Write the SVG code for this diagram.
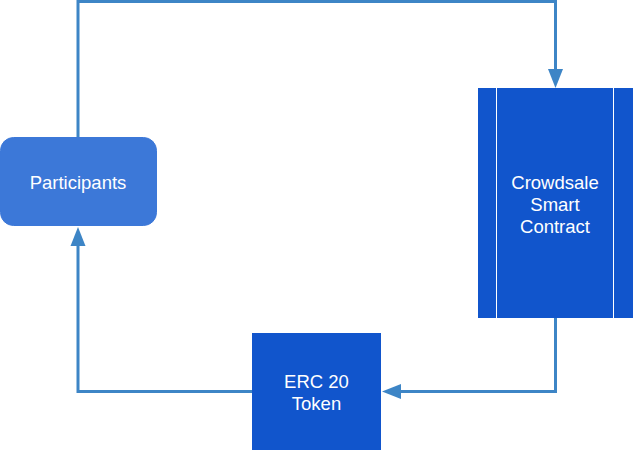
<svg xmlns="http://www.w3.org/2000/svg" width="634" height="451" viewBox="0 0 634 451">
<defs>
<style>
.lbl{font-family:"Liberation Sans",Arial,sans-serif;font-size:18.5px;fill:#ffffff;text-anchor:middle}
.edge{fill:none;stroke:#3d85c6;stroke-width:3}
.ah{fill:#3d85c6}
</style>
</defs>
<rect width="634" height="451" fill="#ffffff"/>
<g id="connectors">
<path class="edge" d="M78,137 V1.5 H555.5 V72"/>
<polygon class="ah" points="548,69 563,69 555.5,88"/>
<path class="edge" d="M555.5,318 V391.5 H398"/>
<polygon class="ah" points="401,384 401,399 382,391.5"/>
<path class="edge" d="M252,391.5 H78 V243"/>
<polygon class="ah" points="70.5,246 85.5,246 78,227"/>
</g>
<g id="participants">
<rect x="0.5" y="137.5" width="156" height="88" rx="13" fill="#3c78d8" stroke="#3c78d8"/>
<text class="lbl" x="78" y="189">Participants</text>
</g>
<g id="crowdsale">
<rect x="478" y="88" width="155" height="230" fill="#1155cc"/>
<line x1="496.5" y1="88" x2="496.5" y2="318" stroke="#ffffff" stroke-width="1"/>
<line x1="613.5" y1="88" x2="613.5" y2="318" stroke="#ffffff" stroke-width="1"/>
<text class="lbl" x="555" y="189">Crowdsale</text>
<text class="lbl" x="555" y="211">Smart</text>
<text class="lbl" x="555" y="232.5">Contract</text>
</g>
<g id="erc20">
<rect x="252" y="333" width="129" height="117" fill="#1155cc"/>
<text class="lbl" x="316.5" y="388">ERC 20</text>
<text class="lbl" x="316.5" y="410">Token</text>
</g>
</svg>
